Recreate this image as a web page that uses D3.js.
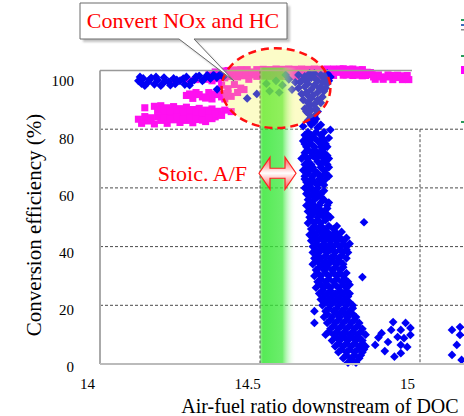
<!DOCTYPE html>
<html>
<head>
<meta charset="utf-8">
<script src="https://cdn.jsdelivr.net/npm/d3@7"></script>
<style>
  html, body { margin: 0; padding: 0; background: #fff; }
  svg { display: block; }
</style>
</head>
<body>
<svg id="chart" width="464" height="416"></svg>
<script>
// Axis ticks
const xTicks = [14, 14.5, 15];
const yTicks = [0, 20, 40, 60, 80, 100];
const yGrid = [20, 40, 60, 80];
const xGrid = [14.5, 15];

// Stoichiometric A/F window (green band)
const stoicBand = [14.5, 14.6125];

// Blue diamonds: [A/F, conversion %]
const noxPoints = [
    // band on the rich side, ~14.1 - 14.4
    [14.12, 96.5], [14.13, 95.5], [14.135, 97.3], [14.15, 96], [14.16, 97.5], [14.17, 95.3],
    [14.18, 96.8], [14.195, 95.5], [14.2, 97.6], [14.215, 96.2], [14.23, 97.3], [14.235, 95.4],
    [14.25, 96.5], [14.265, 95.2], [14.27, 97.8], [14.285, 96.2], [14.3, 97.9], [14.31, 98.2],
    [14.325, 97], [14.335, 98.4], [14.345, 97.2], [14.355, 98.5], [14.365, 97.6], [14.375, 98.6],
    [14.385, 97.8], [14.366, 93.6],
    [14.125, 97.8], [14.14, 94.8], [14.155, 96.8], [14.175, 97.8], [14.19, 94.8], [14.205, 96.5],
    [14.22, 95], [14.24, 96.8], [14.26, 97.2], [14.28, 95], [14.295, 96.8], [14.32, 96.5],
    // around stoichiometric
    [14.46, 90.5], [14.49, 92],
    [14.52, 95.5], [14.53, 93], [14.55, 96.5], [14.56, 92.5], [14.57, 95], [14.59, 97],
    [14.6, 93.5], [14.61, 96], [14.58, 98.5],
    [14.62, 98.5], [14.63, 96.5], [14.64, 98], [14.65, 95.5], [14.66, 97.5], [14.67, 99],
    [14.68, 96.5], [14.69, 98.5], [14.7, 97.5], [14.71, 99], [14.72, 97.8],
    [14.62, 94], [14.63, 92], [14.64, 94.5], [14.65, 91.5], [14.66, 93.5], [14.67, 95],
    [14.68, 92.5], [14.69, 94.5], [14.7, 93], [14.71, 95.5],
    [14.635, 90], [14.65, 89], [14.66, 90.5], [14.67, 88.5], [14.68, 90], [14.69, 89],
    [14.64, 87], [14.65, 85.5], [14.66, 86.5], [14.67, 84.5], [14.68, 86],
    [14.65, 83], [14.66, 81.5], [14.67, 82.5], [14.68, 80.5], [14.69, 81.5], [14.72, 79.8], [14.635, 81],
    [14.625, 96], [14.645, 96.5], [14.655, 99], [14.675, 97], [14.695, 96], [14.705, 98.5],
    [14.715, 96.5], [14.645, 92.5], [14.665, 91.5], [14.685, 94], [14.705, 94], [14.655, 88],
    [14.675, 87], [14.695, 91], [14.66, 84], [14.645, 86], [14.675, 83.5],
    // lean drop-off column
    [14.64, 78], [14.66, 78], [14.69, 78],
    [14.635, 76], [14.655, 76], [14.68, 76], [14.7, 76],
    [14.645, 74], [14.67, 74], [14.69, 74], [14.71, 74],
    [14.64, 72], [14.66, 72], [14.68, 72], [14.7, 72],
    [14.63, 70], [14.65, 70], [14.675, 70], [14.7, 70], [14.715, 70],
    [14.64, 68], [14.66, 68], [14.69, 68], [14.71, 68],
    [14.635, 66], [14.655, 66], [14.67, 66], [14.7, 66],
    [14.64, 64], [14.665, 64], [14.69, 64], [14.715, 64],
    [14.645, 62], [14.67, 62], [14.695, 62],
    [14.64, 60], [14.66, 60], [14.68, 60],
    [14.645, 58], [14.665, 58], [14.69, 58],
    [14.65, 56], [14.67, 56], [14.7, 56],
    [14.645, 54], [14.67, 54], [14.685, 54], [14.71, 54],
    [14.65, 52], [14.675, 52], [14.7, 52],
    [14.655, 50], [14.68, 50], [14.7, 50], [14.72, 50],
    [14.65, 48], [14.67, 48], [14.69, 48], [14.825, 48.3],
    [14.66, 46], [14.68, 46], [14.7, 46], [14.73, 46],
    [14.655, 44], [14.675, 44], [14.7, 44], [14.72, 44], [14.745, 44],
    [14.66, 42], [14.68, 42], [14.7, 42], [14.72, 42], [14.74, 42], [14.76, 42],
    [14.665, 40], [14.69, 40], [14.71, 40], [14.73, 40], [14.75, 40], [14.77, 40],
    [14.65, 79], [14.675, 79], [14.7, 79],
    [14.645, 77], [14.67, 77], [14.695, 77], [14.715, 77],
    [14.64, 75], [14.66, 75], [14.69, 75], [14.705, 75],
    [14.65, 73], [14.67, 73], [14.695, 73],
    [14.64, 71], [14.665, 71], [14.69, 71], [14.71, 71],
    [14.65, 69], [14.68, 69], [14.7, 69],
    [14.645, 67], [14.665, 67], [14.69, 67], [14.715, 67],
    [14.65, 65], [14.68, 65], [14.705, 65],
    [14.64, 63], [14.66, 63], [14.685, 63], [14.705, 63],
    [14.655, 61], [14.68, 61], [14.7, 61],
    [14.65, 59], [14.675, 59], [14.7, 59],
    [14.655, 57], [14.68, 57], [14.69, 57],
    [14.66, 55], [14.69, 55], [14.715, 55],
    [14.66, 53], [14.685, 53], [14.71, 53],
    [14.665, 51], [14.69, 51], [14.71, 51],
    [14.66, 49], [14.68, 49], [14.705, 49],
    [14.67, 47], [14.69, 47], [14.715, 47], [14.74, 47],
    [14.665, 45], [14.69, 45], [14.71, 45], [14.735, 45], [14.755, 45],
    [14.67, 43], [14.69, 43], [14.71, 43], [14.73, 43], [14.75, 43], [14.77, 43],
    [14.675, 41], [14.7, 41], [14.72, 41], [14.74, 41], [14.76, 41], [14.78, 41],
    // low-efficiency tail
    [14.665, 38], [14.685, 38], [14.71, 38], [14.735, 38], [14.76, 38], [14.775, 38],
    [14.67, 36], [14.69, 36], [14.72, 36], [14.745, 36], [14.77, 36],
    [14.665, 34], [14.695, 34], [14.715, 34], [14.74, 34], [14.76, 34],
    [14.675, 32], [14.7, 32], [14.725, 32], [14.75, 32],
    [14.67, 30], [14.69, 30], [14.715, 30], [14.74, 30], [14.76, 30], [14.82, 29.6],
    [14.68, 28], [14.705, 28], [14.73, 28], [14.755, 28], [14.775, 28],
    [14.675, 26], [14.7, 26], [14.72, 26], [14.745, 26], [14.77, 26],
    [14.685, 24], [14.71, 24], [14.735, 24], [14.76, 24], [14.78, 24],
    [14.69, 22], [14.715, 22], [14.74, 22], [14.765, 22],
    [14.695, 20], [14.72, 20], [14.745, 20], [14.77, 20], [14.79, 20],
    [14.67, 18], [14.705, 18], [14.73, 18], [14.755, 18], [14.78, 18],
    [14.7, 16], [14.725, 16], [14.75, 16], [14.775, 16], [14.8, 16],
    [14.67, 14], [14.71, 14], [14.735, 14], [14.76, 14], [14.785, 14], [14.81, 14],
    [14.72, 12], [14.745, 12], [14.77, 12], [14.795, 12], [14.82, 12],
    [14.705, 10], [14.73, 10], [14.755, 10], [14.78, 10], [14.805, 10], [14.83, 10],
    [14.725, 8], [14.75, 8], [14.775, 8], [14.8, 8], [14.82, 8],
    [14.735, 6], [14.76, 6], [14.785, 6], [14.81, 6], [14.83, 6],
    [14.745, 4], [14.77, 4], [14.795, 4], [14.82, 4],
    [14.76, 2], [14.785, 2], [14.81, 2],
    [14.775, 0.5], [14.8, 0.5],
    [14.675, 39], [14.7, 39], [14.72, 39], [14.75, 39], [14.77, 39],
    [14.68, 37], [14.705, 37], [14.73, 37], [14.755, 37],
    [14.68, 35], [14.705, 35], [14.73, 35], [14.75, 35],
    [14.685, 33], [14.71, 33], [14.735, 33], [14.76, 33],
    [14.68, 31], [14.705, 31], [14.73, 31], [14.75, 31], [14.77, 31],
    [14.69, 29], [14.715, 29], [14.74, 29], [14.765, 29],
    [14.69, 27], [14.71, 27], [14.735, 27], [14.76, 27], [14.78, 27],
    [14.695, 25], [14.72, 25], [14.75, 25], [14.77, 25],
    [14.7, 23], [14.725, 23], [14.75, 23], [14.775, 23],
    [14.705, 21], [14.73, 21], [14.755, 21], [14.78, 21],
    [14.715, 19], [14.74, 19], [14.765, 19], [14.79, 19],
    [14.71, 17], [14.74, 17], [14.765, 17], [14.79, 17],
    [14.72, 15], [14.745, 15], [14.77, 15], [14.795, 15],
    [14.73, 13], [14.755, 13], [14.78, 13], [14.805, 13],
    [14.715, 11], [14.74, 11], [14.765, 11], [14.79, 11], [14.815, 11],
    [14.74, 9], [14.765, 9], [14.79, 9], [14.81, 9],
    [14.745, 7], [14.77, 7], [14.795, 7], [14.82, 7],
    [14.755, 5], [14.78, 5], [14.805, 5], [14.825, 5],
    [14.77, 3], [14.795, 3], [14.815, 3],
    [14.79, 1],
    // small cluster near 14.9
    [14.916, 14.3], [14.955, 14], [14.86, 6.5], [14.89, 4.4], [14.94, 3.7], [14.97, 9.9],
    [14.95, 8.8], [14.91, 11.6], [14.88, 10.5], [14.9, 7.5], [14.94, 6.5], [14.96, 5.8],
    [14.94, 11.6], [14.93, 9.2], [14.97, 12.3], [14.87, 9], [14.92, 2.5],
    // beyond 15
    [15.1, 11.6], [15.125, 12.6], [15.115, 6.5], [15.1, 3.1], [15.13, 1.4], [15.125, 9.9]
];

// Magenta squares: [A/F, conversion %]
const hcPoints = [
    // lower band ~82-88 %
    [14.14, 87.3],
    [14.17, 87.8], [14.19, 88], [14.21, 87.3], [14.23, 87.7], [14.25, 87], [14.27, 87.5],
    [14.29, 86.7], [14.31, 87.1], [14.33, 86.5], [14.35, 86.9], [14.37, 86.1], [14.39, 86.5], [14.41, 86],
    [14.2, 85.4], [14.22, 84.8], [14.24, 85.6], [14.26, 84.5], [14.28, 85.2], [14.3, 84.5],
    [14.32, 84.1], [14.34, 84.9], [14.36, 84.2], [14.38, 84.7],
    [14.12, 83.4], [14.13, 82], [14.15, 82.8], [14.17, 81.8], [14.19, 83], [14.21, 82],
    [14.23, 83.2], [14.25, 82.3], [14.27, 83], [14.29, 82.2], [14.31, 83.3], [14.33, 82.6], [14.35, 83.6],
    [14.18, 86.5], [14.2, 87], [14.22, 86.3], [14.24, 86.7], [14.26, 86], [14.28, 86.4],
    [14.3, 85.8], [14.32, 85.6], [14.34, 85.7], [14.36, 85.3], [14.14, 84.3], [14.16, 83.9],
    [14.18, 84.3], [14.2, 83.7], [14.22, 83.6], [14.24, 84.2], [14.26, 83.5], [14.28, 83.8],
    [14.3, 83.4], [14.32, 83.1], [14.34, 83.8],
    // middle band ~90-93 %
    [14.27, 91.5], [14.29, 90.5], [14.3, 92.5], [14.32, 91], [14.34, 92.5], [14.35, 90.3],
    [14.37, 91.8], [14.39, 90.3],
    [14.28, 92], [14.31, 91.8], [14.33, 90.6], [14.36, 92], [14.38, 91], [14.4, 92.2],
    // upper band ~96-100 %
    [14.23, 96.6], [14.26, 96.8], [14.28, 96.5], [14.3, 96.9],
    [14.34, 98.5], [14.35, 96.5], [14.36, 99.5], [14.37, 97.2], [14.38, 99.8], [14.39, 97.5],
    [14.4, 100], [14.41, 98], [14.42, 100.2], [14.43, 97.8], [14.44, 100.3], [14.45, 98.2],
    [14.46, 100.3], [14.47, 98.5],
    [14.335, 97], [14.355, 98], [14.375, 98.6], [14.395, 99], [14.415, 99.2], [14.435, 99.2],
    [14.455, 99.3], [14.475, 99.5], [14.465, 97],
    [14.38, 95], [14.4, 93.8], [14.42, 95.2], [14.44, 94], [14.39, 92.2], [14.41, 91.2],
    [14.43, 92.5], [14.45, 93.5],
    [14.49, 100.3], [14.49, 98], [14.51, 100.4], [14.51, 98.1], [14.53, 100.3], [14.53, 98],
    [14.55, 100.5], [14.55, 98.2], [14.57, 100.4], [14.57, 98], [14.59, 100.5], [14.59, 98.2],
    [14.61, 100.4], [14.61, 98], [14.63, 100.5], [14.63, 98.3], [14.65, 100.4], [14.65, 98.1],
    [14.67, 100.5], [14.67, 98.3], [14.69, 100.4], [14.69, 98], [14.71, 100.5], [14.71, 98.2],
    [14.5, 99.2], [14.52, 99.2], [14.54, 99.3], [14.56, 99.2], [14.58, 99.3], [14.6, 99.2],
    [14.62, 99.3], [14.64, 99.2], [14.66, 99.3], [14.68, 99.2], [14.7, 99.3], [14.72, 99.2],
    [14.73, 100.5], [14.73, 98.3], [14.745, 99.5], [14.76, 100.6], [14.76, 98.4], [14.775, 99.6],
    [14.79, 100.5], [14.79, 98.3], [14.805, 99.5], [14.82, 100.3], [14.82, 98.2], [14.835, 99.4],
    [14.74, 99.4], [14.75, 100.5], [14.77, 98.5], [14.78, 100.4], [14.8, 98.4], [14.81, 100.2],
    [14.83, 98.3], [14.845, 99.3],
    [14.85, 98.6], [14.86, 97], [14.87, 98.5], [14.885, 97], [14.9, 98.5], [14.915, 96.9],
    [14.93, 98.4], [14.945, 96.9], [14.96, 98.3], [14.965, 96.9],
    [14.855, 97.8], [14.875, 97.8], [14.895, 97.8], [14.91, 98.3], [14.925, 97.6], [14.94, 98.2],
    [14.955, 97.5]
];

const width = 464;
const height = 416;
const serif = "'Times New Roman', 'Liberation Serif', serif";

const svg = d3.select("#chart");

const x = d3.scaleLinear().domain([14, 15]).range([100, 420]);
const y = d3.scaleLinear().domain([0, 100]).range([364, 70.5]);
// the tick labels in the original sit a little off the grid
const yLabel = d3.scaleLinear().domain([0, 100]).range([367, 81]);

const defs = svg.append("defs");

const bandGrad = defs.append("linearGradient").attr("id", "band-grad")
    .attr("x1", 0).attr("x2", 1).attr("y1", 0).attr("y2", 0);
bandGrad.append("stop").attr("offset", "0%").attr("stop-color", "#6fe06f").attr("stop-opacity", 0.8);
bandGrad.append("stop").attr("offset", "8%").attr("stop-color", "#2ee62e").attr("stop-opacity", 0.95);
bandGrad.append("stop").attr("offset", "62%").attr("stop-color", "#3ee83e").attr("stop-opacity", 0.9);
bandGrad.append("stop").attr("offset", "100%").attr("stop-color", "#ffffff").attr("stop-opacity", 0);

const arrowGrad = defs.append("linearGradient").attr("id", "arrow-grad")
    .attr("x1", 0).attr("x2", 0).attr("y1", 0).attr("y2", 1);
arrowGrad.append("stop").attr("offset", "0%").attr("stop-color", "#ff5050");
arrowGrad.append("stop").attr("offset", "50%").attr("stop-color", "#ffffff");
arrowGrad.append("stop").attr("offset", "100%").attr("stop-color", "#ff5050");

defs.append("filter").attr("id", "blur")
    .append("feGaussianBlur").attr("stdDeviation", 1.2);

// Horizontal gridlines
svg.append("g")
    .selectAll("line")
    .data(yGrid)
    .join("line")
    .attr("x1", x(14))
    .attr("x2", width)
    .attr("y1", d => y(d))
    .attr("y2", d => y(d))
    .attr("stroke", "#4a4a4a")
    .attr("stroke-dasharray", "3,2");

// Magenta squares
svg.append("g")
    .selectAll("path")
    .data(hcPoints)
    .join("path")
    .attr("d", d3.symbol().type(d3.symbolSquare).size(50)())
    .attr("transform", d => `translate(${x(d[0])},${y(d[1])})`)
    .attr("fill", "#ff10f0");

// Blue diamonds
svg.append("g")
    .selectAll("path")
    .data(noxPoints)
    .join("path")
    .attr("d", d3.symbol().type(d3.symbolSquare).size(38)())
    .attr("transform", d => `translate(${x(d[0])},${y(d[1])}) rotate(45)`)
    .attr("fill", "#0000f5");

// Stoichiometric band
svg.append("rect")
    .attr("x", x(stoicBand[0]))
    .attr("y", y(101))
    .attr("width", x(stoicBand[1]) - x(stoicBand[0]))
    .attr("height", y(0) - y(101))
    .attr("fill", "url(#band-grad)")
    .attr("opacity", 0.85);

// Vertical gridlines
svg.append("g")
    .selectAll("line")
    .data(xGrid)
    .join("line")
    .attr("x1", d => x(d))
    .attr("x2", d => x(d))
    .attr("y1", d => d < 15 ? y(100) : y(80))
    .attr("y2", y(0))
    .attr("stroke", "#4a4a4a")
    .attr("stroke-dasharray", "3,2");

// Plot frame: left, bottom, top
svg.append("line")
    .attr("x1", x(14)).attr("x2", x(14))
    .attr("y1", y(100)).attr("y2", y(0))
    .attr("stroke", "#aaaaaa").attr("stroke-width", 2);
svg.append("line")
    .attr("x1", x(14)).attr("x2", width)
    .attr("y1", y(0)).attr("y2", y(0))
    .attr("stroke", "#bbbbbb").attr("stroke-width", 2);
svg.append("line")
    .attr("x1", x(14)).attr("x2", x(14.975))
    .attr("y1", y(100)).attr("y2", y(100))
    .attr("stroke", "#999999").attr("stroke-width", 1.5);

// Cut-off legend keys on the right edge
const legendStub = [
    { y: 19, h: 2, c: "#2a9a5a" }, { y: 24, h: 2, c: "#3b6bbb" }, { y: 29, h: 1.5, c: "#888" },
    { y: 55, h: 2, c: "#2a9a5a" }, { y: 66, h: 8, c: "#ff00ff" }, { y: 121, h: 2, c: "#2a9a5a" }
];
svg.append("g")
    .selectAll("rect")
    .data(legendStub)
    .join("rect")
    .attr("x", 461).attr("width", 3)
    .attr("y", d => d.y).attr("height", d => d.h)
    .attr("fill", d => d.c);

// Ellipse around the high-conversion zone
svg.append("ellipse")
    .attr("cx", x(14.55))
    .attr("cy", y(94))
    .attr("rx", x(14.72) - x(14.55))
    .attr("ry", y(80.4) - y(94))
    .attr("fill", "#f4f43b")
    .attr("fill-opacity", 0.28)
    .attr("stroke", "#ff1010")
    .attr("stroke-width", 2.5)
    .attr("stroke-dasharray", "8,5");

// Callout box
const callout = "M80,3 H287 V39 H194 L234,81 L179,39 H80 Z";
svg.append("path")
    .attr("d", callout)
    .attr("transform", "translate(3,3)")
    .attr("fill", "#9a9a9a")
    .attr("opacity", 0.6)
    .attr("filter", "url(#blur)");
svg.append("path")
    .attr("d", callout)
    .attr("fill", "#ffffff")
    .attr("stroke", "#6a6a6a")
    .attr("stroke-width", 1);
svg.append("text")
    .attr("x", 183)
    .attr("y", 28)
    .attr("text-anchor", "middle")
    .style("font-family", serif)
    .style("font-size", "22px")
    .attr("fill", "#ff0000")
    .text("Convert NOx and HC");

// Stoic. A/F double arrow
const ax0 = x(stoicBand[0]) - 1;
const ax1 = x(stoicBand[1]);
const ay = y(65);
const head = 11, headH = 16, bodyH = 5;
const arrowPath = d3.path();
arrowPath.moveTo(ax0, ay);
arrowPath.lineTo(ax0 + head, ay - headH);
arrowPath.lineTo(ax0 + head, ay - bodyH);
arrowPath.lineTo(ax1 - head, ay - bodyH);
arrowPath.lineTo(ax1 - head, ay - headH);
arrowPath.lineTo(ax1, ay);
arrowPath.lineTo(ax1 - head, ay + headH);
arrowPath.lineTo(ax1 - head, ay + bodyH);
arrowPath.lineTo(ax0 + head, ay + bodyH);
arrowPath.lineTo(ax0 + head, ay + headH);
arrowPath.closePath();
svg.append("path")
    .attr("d", arrowPath.toString())
    .attr("fill", "url(#arrow-grad)")
    .attr("stroke", "#ff2020")
    .attr("stroke-width", 1.2);

svg.append("text")
    .attr("x", x(stoicBand[0]) - 13)
    .attr("y", ay + 8)
    .attr("text-anchor", "end")
    .style("font-family", serif)
    .style("font-size", "22px")
    .attr("fill", "#ff0000")
    .text("Stoic. A/F");

// Tick labels
const yAxis = svg.append("g")
    .attr("transform", "translate(80,0)")
    .call(d3.axisLeft(yLabel).tickValues(yTicks).tickSize(0).tickPadding(6));
yAxis.select(".domain").remove();
yAxis.selectAll("text")
    .style("font-family", serif)
    .style("font-size", "15px")
    .attr("fill", "#000");

const xAxis = svg.append("g")
    .attr("transform", `translate(-13,${y(0) + 14})`)
    .call(d3.axisBottom(x).tickValues(xTicks).tickSize(0).tickPadding(0).tickFormat(d3.format("")));
xAxis.select(".domain").remove();
xAxis.selectAll("text")
    .style("font-family", serif)
    .style("font-size", "15px")
    .attr("fill", "#000");

// Axis titles
svg.append("text")
    .attr("transform", "translate(41,225) rotate(-90)")
    .attr("text-anchor", "middle")
    .style("font-family", serif)
    .style("font-size", "21px")
    .attr("fill", "#000")
    .text("Conversion efficiency (%)");

svg.append("text")
    .attr("x", 320)
    .attr("y", 413)
    .attr("text-anchor", "middle")
    .style("font-family", serif)
    .style("font-size", "20px")
    .attr("fill", "#000")
    .text("Air-fuel ratio downstream of DOC");
</script>
</body>
</html>
